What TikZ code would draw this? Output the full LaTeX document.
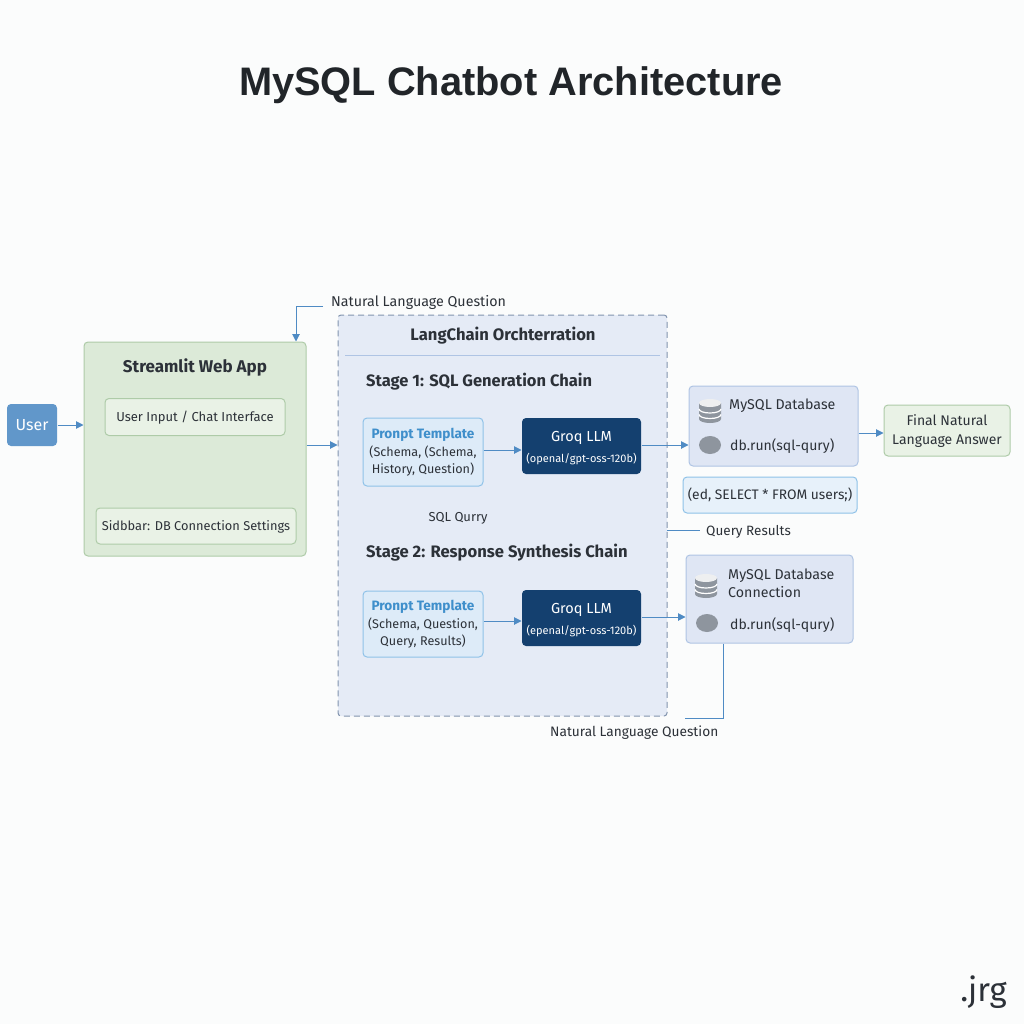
\documentclass[tikz,border=0pt]{standalone}
\usepackage{fontspec}
\setmainfont{Fira Sans}
\newfontfamily\titlefont{Liberation Sans}
\usetikzlibrary{arrows.meta,calc}
\definecolor{ink}{HTML}{2C3138}
\definecolor{titlec}{HTML}{212529}
\definecolor{arrowc}{HTML}{4F8BC4}
\definecolor{promptc}{HTML}{3F8FCB}
\definecolor{DBB}{HTML}{AFC4E4}
\definecolor{DBF}{HTML}{DFE6F4}
\definecolor{LNF}{HTML}{E5EBF6}
\definecolor{LNB}{HTML}{8294AE}
\definecolor{GRQ}{HTML}{14406F}
\definecolor{PRB}{HTML}{8FC2E8}
\definecolor{PRF}{HTML}{DDEBF8}
\definecolor{ICN}{HTML}{8E959E}
\definecolor{GB}{HTML}{AECBA8}
\definecolor{GF}{HTML}{DCEAD8}
\definecolor{GL}{HTML}{E9F2E6}
\definecolor{BG}{HTML}{FBFCFC}
\newcommand{\fs}[1]{\fontsize{#1}{#1}\selectfont}
\newcommand{\fl}[2]{\fontsize{#1}{#2}\selectfont}
\tikzset{
  box/.style={draw,rounded corners=4pt,line width=1pt,inner sep=0pt,align=center,text=ink},
  lbl/.style={inner sep=0pt,text=ink,anchor=west},
  conn/.style={draw=arrowc,line width=1pt},
  arr/.style={conn,-{Triangle[length=7.5pt,width=7.5pt]}},
  dbbox/.style={box,draw=DBB,fill=DBF},
  groq/.style={box,draw=none,fill=GRQ,text=white},
  prompt/.style={box,draw=PRB,fill=PRF,text=ink},
}
\newcommand{\dbicon}[2]{%
  \begin{scope}[shift={(#1,#2)}]
    \fill[ICN] (-11,-8) -- (-11,8) arc[x radius=11,y radius=4,start angle=180,end angle=0] -- (11,-8) -- cycle;
    \fill[ICN!15!white] (0,-8) ellipse[x radius=11,y radius=4];
    \draw[white,line width=1.2pt] (-11,-2) arc[x radius=11,y radius=4,start angle=180,end angle=0];
    \draw[white,line width=1.2pt] (-11,3.5) arc[x radius=11,y radius=4,start angle=180,end angle=0];
  \end{scope}}
\begin{document}
\begin{tikzpicture}[x=1pt,y=-1pt]
\useasboundingbox (0,0) rectangle (1024,1024);
\fill[BG] (0,0) rectangle (1024,1024);
% title
\node[lbl,anchor=center,text=titlec,font=\titlefont\bfseries\fs{39.8}] (title) at (511,85) {MySQL Chatbot Architecture};
% user
\node[box,draw=none,fill=arrowc!90!white,text=white,minimum width=50pt,minimum height=42pt,font=\fs{16}] (user) at (32,425) {User};
% streamlit
\node[box,draw=GB,fill=GF,minimum width=222pt,minimum height=214pt] (app) at (195,449) {};
\node[lbl,anchor=center,font=\bfseries\fs{17}] (apptitle) at (195,367) {Streamlit Web App};
\node[box,draw=GB,fill=GL,minimum width=180pt,minimum height=37pt,font=\fs{13}] (input) at (195,417) {\rule{0pt}{12pt}User Input / Chat Interface};
\node[box,draw=GB,fill=GL,minimum width=200pt,minimum height=36pt,font=\fs{12.8}] (side) at (196,526) {\rule{0pt}{12pt}Sidbbar: DB Connection Settings};
% langchain
\node[box,dash pattern=on 6pt off 4pt,draw=LNB,fill=LNF,minimum width=329pt,minimum height=401pt,rounded corners=3pt] (lang) at (502.5,515.5) {};
\node[lbl,anchor=center,font=\bfseries\fs{16.6}] (langtitle) at (503,336) {LangChain Orchterration};
\coordinate (ruleL) at (345,355);
\coordinate (ruleR) at (660,355);
\draw[draw=DBB,line width=.8pt] (ruleL) -- (ruleR);
\node[lbl,font=\bfseries\fs{16.5}] (s1) at (366,382) {Stage 1: SQL Generation Chain};
\node[lbl,anchor=center,font=\fs{13}] (sq) at (458,518) {SQL Qurry};
\node[lbl,font=\bfseries\fs{16.6}] (s2) at (366,553) {Stage 2: Response Synthesis Chain};
% prompts
\node[prompt,minimum width=120pt,minimum height=68pt,font=\fl{12.6}{17.5}] (p1) at (423,452) {\rule{0pt}{11pt}\textcolor{promptc}{\bfseries\fs{13.6}Pronpt Template}\\(Schema, (Schema,\\History, Question)};
\node[prompt,minimum width=120pt,minimum height=66pt,font=\fl{12.6}{17.5}] (p2) at (423,624) {\rule{0pt}{11pt}\textcolor{promptc}{\bfseries\fs{13.6}Pronpt Template}\\(Schema, Question,\\Query, Results)};
% groq
\node[groq,minimum width=119pt,minimum height=56pt,font=\fl{14.5}{21}] (g1) at (581.5,446) {\rule{0pt}{15pt}Groq LLM\\{\fs{11}(openal/gpt-oss-120b)}};
\node[groq,minimum width=119pt,minimum height=56pt,font=\fl{14.5}{21}] (g2) at (581.5,618) {\rule{0pt}{15pt}Groq LLM\\{\fs{11}(epenal/gpt-oss-120b)}};
% db1
\node[dbbox,minimum width=169pt,minimum height=80pt] (d1) at (773.5,426) {};
\dbicon{710}{411}
\fill[ICN] (710,445) ellipse[x radius=11,y radius=9];
\node[lbl,font=\fs{14.2}] (d1t) at (729,406) {MySQL Database};
\node[lbl,font=\fs{14}] (d1r) at (730,446) {db.run(sql-qury)};
% select
\node[box,draw=PRB,fill=PRF!70!white,minimum width=174pt,minimum height=36pt,font=\fs{13.8}] (sel) at (770,495) {(ed, SELECT * FROM users;)};
% query results
\node[lbl,font=\fs{13.5}] (qr) at (706,532) {Query Results};
% db2
\node[dbbox,minimum width=167pt,minimum height=88pt] (d2) at (769.5,599) {};
\dbicon{706}{586}
\fill[ICN] (707,623) ellipse[x radius=11,y radius=9];
\node[lbl,font=\fl{14.2}{18},align=left] (d2t) at (728,583) {MySQL Database\\Connection};
\node[lbl,font=\fs{14}] (d2r) at (730,625) {db.run(sql-qury)};
% final
\node[box,draw=GB,fill=GL,minimum width=126pt,minimum height=51pt,font=\fl{14}{19}] (fin) at (947,430.5) {\rule{0pt}{12pt}Final Natural\\Language Answer};
% labels
\node[lbl,font=\fs{14.25}] (nl1) at (331,302) {Natural Language Question};
\node[lbl,font=\fs{13.7}] (nl2) at (550,733) {Natural Language Question};
\node[lbl,anchor=east,font=\fs{33}] (wm) at (1007,992) {.jrg};
% connectors
\coordinate (nlstart) at (323,306);
\coordinate (qrstart) at (667,530);
\coordinate (qrend) at (700,530);
\coordinate (nl2end) at (685,718);
\draw[arr] (nlstart) -| (app.north -| 296,0);
\draw[arr] (user.east |- 0,425) -- (app.west |- 0,425);
\draw[arr] (app.east |- 0,445) -- (lang.west |- 0,445);
\draw[arr] (p1.east |- 0,450) -- (g1.west |- 0,450);
\draw[arr] (p2.east |- 0,621) -- (g2.west |- 0,621);
\draw[arr] (g1.east |- 0,445) -- (d1.west |- 0,445);
\draw[arr] (g2.east |- 0,617) -- (d2.west |- 0,617);
\draw[arr] (d1.east |- 0,433) -- (fin.west |- 0,433);
\draw[conn] (qrstart) -- (qrend);
\draw[conn] (d2.south -| 723,0) |- (nl2end);
\end{tikzpicture}
\end{document}
